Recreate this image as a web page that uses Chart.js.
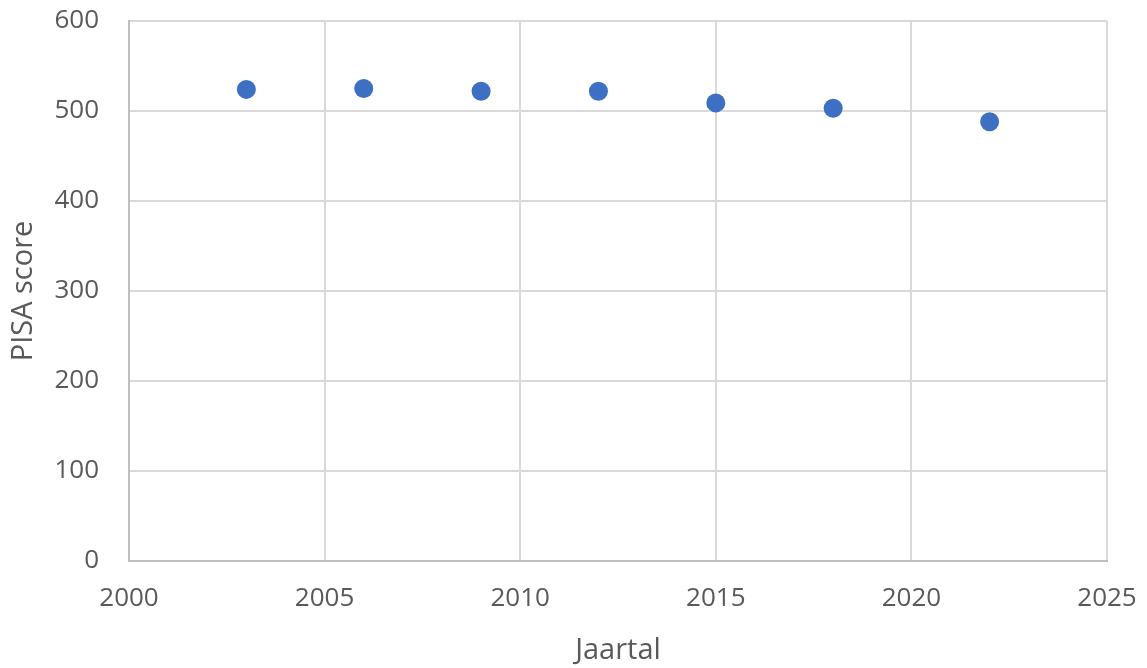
<!DOCTYPE html>
<html>
<head>
<meta charset="utf-8">
<script src="https://cdn.jsdelivr.net/npm/chart.js@4/dist/chart.umd.min.js"></script>
<style>
  html, body { margin: 0; padding: 0; background: #ffffff; }
  #wrap { width: 1147px; height: 668px; position: relative; }
</style>
</head>
<body>
<div id="wrap"><canvas id="chart" width="1147" height="668"></canvas></div>
<script>
// PISA-scores per meetjaar
const years = [2003, 2006, 2009, 2012, 2015, 2018, 2022];
const scores = [524, 525, 522, 522, 509, 503, 488];

const xTitle = 'Jaartal';
const yTitle = 'PISA score';

const textColor = '#595959';
const gridColor = '#d9d9d9';
const axisColor = '#bfbfbf';
const pointColor = '#3d6fc2';
const fontFamily = '"Open Sans", "Liberation Sans", sans-serif';

const points = years.map((y, i) => ({ x: y, y: scores[i] }));

new Chart(document.getElementById('chart'), {
  type: 'scatter',
  data: {
    datasets: [{
      data: points,
      backgroundColor: pointColor,
      borderColor: pointColor,
      borderWidth: 0,
      pointRadius: 9.5,
      pointHoverRadius: 9.5
    }]
  },
  options: {
    responsive: false,
    animation: false,
    devicePixelRatio: 1,
    layout: { padding: { top: 21, right: 40, left: 0, bottom: 0 } },
    plugins: { legend: { display: false }, tooltip: { enabled: false } },
    scales: {
      x: {
        type: 'linear',
        min: 2000,
        max: 2025,
        afterFit: (s) => { s.height = 107; s.paddingLeft = 0; s.paddingRight = 0; },
        ticks: {
          stepSize: 5,
          color: textColor,
          padding: 22,
          font: { family: fontFamily, size: 26 },
          callback: (v) => String(v),
          maxRotation: 0
        },
        grid: { color: gridColor, lineWidth: 2, drawTicks: false },
        border: { color: axisColor, width: 2 },
        title: {
          display: true,
          text: xTitle,
          color: textColor,
          font: { family: fontFamily, size: 29 },
          padding: { top: 0, bottom: 0 }
        }
      },
      y: {
        min: 0,
        max: 600,
        afterFit: (s) => { s.width = 129; s.paddingTop = 0; s.paddingBottom = 0; },
        ticks: {
          stepSize: 100,
          color: textColor,
          padding: 30,
          font: { family: fontFamily, size: 26 }
        },
        grid: { color: gridColor, lineWidth: 2, drawTicks: false },
        border: { color: axisColor, width: 2 },
        title: {
          display: true,
          text: yTitle,
          color: textColor,
          font: { family: fontFamily, size: 29 },
          padding: { top: 6, bottom: 0 }
        }
      }
    }
  }
});
</script>
</body>
</html>
